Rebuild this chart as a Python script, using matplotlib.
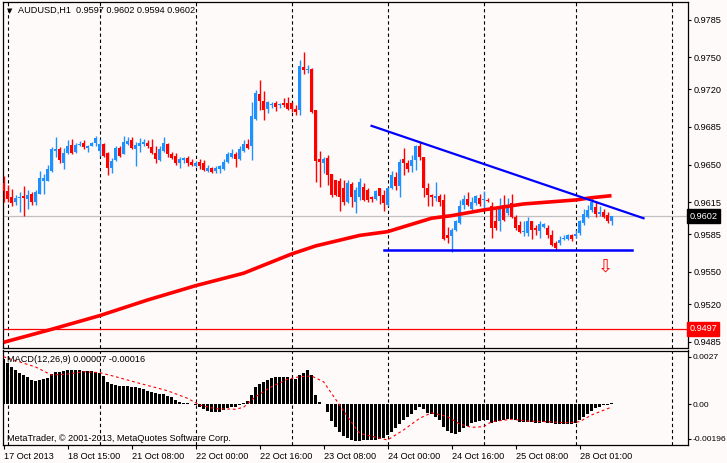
import matplotlib
matplotlib.use('Agg')
import matplotlib.pyplot as plt
import numpy as np

plt.rcParams['font.family'] = ['Liberation Sans', 'DejaVu Sans']

# AUDUSD H1 candles, oldest first (17 Oct 2013 .. 28 Oct 2013)
opens = [0.9633, 0.9625, 0.9620, 0.9615, 0.9619, 0.9621, 0.9618, 0.9623, 0.9615, 0.9623,
         0.9635, 0.9635, 0.9644, 0.9663, 0.9664, 0.9651, 0.9661, 0.9668, 0.9662, 0.9668,
         0.9670, 0.9665, 0.9667, 0.9670, 0.9663, 0.9669, 0.9661, 0.9647, 0.9654, 0.9665,
         0.9660, 0.9669, 0.9673, 0.9664, 0.9667, 0.9669, 0.9670, 0.9666, 0.9661, 0.9654,
         0.9663, 0.9669, 0.9660, 0.9658, 0.9651, 0.9654, 0.9656, 0.9652, 0.9649, 0.9652,
         0.9651, 0.9644, 0.9647, 0.9644, 0.9646, 0.9646, 0.9652, 0.9657, 0.9660, 0.9655,
         0.9663, 0.9669, 0.9667, 0.9692, 0.9716, 0.9709, 0.9702, 0.9705, 0.9707, 0.9705,
         0.9707, 0.9707, 0.9707, 0.9702, 0.9701, 0.9741, 0.9738, 0.9739, 0.9701, 0.9655,
         0.9651, 0.9656, 0.9641, 0.9636, 0.9635, 0.9628, 0.9615, 0.9632, 0.9615, 0.9620,
         0.9629, 0.9626, 0.9620, 0.9618, 0.9628, 0.9622, 0.9612, 0.9628, 0.9638, 0.9630,
         0.9655, 0.9651, 0.9649, 0.9654, 0.9667, 0.9657, 0.9628, 0.9622, 0.9619, 0.9621,
         0.9617, 0.9584, 0.9583, 0.9589, 0.9596, 0.9612, 0.9618, 0.9609, 0.9614, 0.9619,
         0.9617, 0.9617, 0.9611, 0.9597, 0.9597, 0.9612, 0.9605, 0.9614, 0.9601, 0.9594,
         0.9587, 0.9586, 0.9597, 0.9591, 0.9588, 0.9592, 0.9591, 0.9584, 0.9577, 0.9577,
         0.9581, 0.9581, 0.9584, 0.9583, 0.9586, 0.9596, 0.9601, 0.9608, 0.9610, 0.9604,
         0.9606, 0.9603, 0.9597]
highs = [0.9639, 0.9631, 0.9627, 0.9622, 0.9624, 0.9630, 0.9626, 0.9624, 0.9626, 0.9644,
         0.9641, 0.9650, 0.9666, 0.9676, 0.9666, 0.9665, 0.9673, 0.9674, 0.9670, 0.9672,
         0.9673, 0.9668, 0.9671, 0.9677, 0.9674, 0.9670, 0.9662, 0.9656, 0.9667, 0.9667,
         0.9677, 0.9676, 0.9676, 0.9671, 0.9675, 0.9674, 0.9673, 0.9674, 0.9667, 0.9667,
         0.9676, 0.9670, 0.9662, 0.9661, 0.9657, 0.9657, 0.9658, 0.9655, 0.9653, 0.9655,
         0.9654, 0.9650, 0.9648, 0.9649, 0.9650, 0.9655, 0.9662, 0.9664, 0.9662, 0.9667,
         0.9673, 0.9674, 0.9708, 0.9719, 0.9729, 0.9718, 0.9709, 0.9708, 0.9709, 0.9707,
         0.9712, 0.9713, 0.9708, 0.9705, 0.9747, 0.9755, 0.9743, 0.9740, 0.9701, 0.9663,
         0.9657, 0.9659, 0.9641, 0.9636, 0.9637, 0.9636, 0.9636, 0.9634, 0.9629, 0.9637,
         0.9633, 0.9628, 0.9621, 0.9626, 0.9628, 0.9626, 0.9629, 0.9644, 0.9643, 0.9655,
         0.9665, 0.9654, 0.9659, 0.9668, 0.9671, 0.9657, 0.9633, 0.9623, 0.9634, 0.9623,
         0.9623, 0.9592, 0.9591, 0.9598, 0.9617, 0.9622, 0.9624, 0.9620, 0.9622, 0.9623,
         0.9625, 0.9619, 0.9615, 0.9609, 0.9619, 0.9622, 0.9619, 0.9623, 0.9603, 0.9597,
         0.9597, 0.9601, 0.9597, 0.9594, 0.9597, 0.9596, 0.9594, 0.9589, 0.9579, 0.9583,
         0.9584, 0.9585, 0.9585, 0.9589, 0.9598, 0.9609, 0.9612, 0.9619, 0.9616, 0.9611,
         0.9609, 0.9606, 0.9602]
lows = [0.9615, 0.9615, 0.9611, 0.9612, 0.9606, 0.9602, 0.9609, 0.9612, 0.9612, 0.9623,
        0.9623, 0.9635, 0.9643, 0.9657, 0.9651, 0.9646, 0.9660, 0.9660, 0.9661, 0.9667,
        0.9664, 0.9662, 0.9667, 0.9667, 0.9658, 0.9657, 0.9640, 0.9642, 0.9653, 0.9657,
        0.9660, 0.9668, 0.9664, 0.9649, 0.9662, 0.9667, 0.9665, 0.9660, 0.9651, 0.9653,
        0.9662, 0.9657, 0.9655, 0.9650, 0.9647, 0.9651, 0.9649, 0.9649, 0.9648, 0.9646,
        0.9644, 0.9643, 0.9642, 0.9642, 0.9642, 0.9645, 0.9651, 0.9656, 0.9648, 0.9654,
        0.9662, 0.9664, 0.9654, 0.9691, 0.9701, 0.9691, 0.9698, 0.9703, 0.9700, 0.9703,
        0.9704, 0.9701, 0.9699, 0.9696, 0.9696, 0.9734, 0.9735, 0.9698, 0.9634, 0.9629,
        0.9642, 0.9631, 0.9620, 0.9621, 0.9607, 0.9612, 0.9614, 0.9610, 0.9605, 0.9617,
        0.9616, 0.9615, 0.9615, 0.9617, 0.9613, 0.9607, 0.9611, 0.9627, 0.9626, 0.9620,
        0.9640, 0.9643, 0.9643, 0.9645, 0.9654, 0.9620, 0.9611, 0.9611, 0.9616, 0.9611,
        0.9580, 0.9577, 0.9569, 0.9588, 0.9595, 0.9609, 0.9611, 0.9608, 0.9612, 0.9611,
        0.9608, 0.9615, 0.9582, 0.9589, 0.9588, 0.9597, 0.9603, 0.9600, 0.9589, 0.9586,
        0.9583, 0.9583, 0.9581, 0.9584, 0.9582, 0.9591, 0.9582, 0.9574, 0.9570, 0.9575,
        0.9580, 0.9580, 0.9579, 0.9582, 0.9584, 0.9594, 0.9600, 0.9606, 0.9601, 0.9602,
        0.9600, 0.9596, 0.9594]
closes = [0.9625, 0.9618, 0.9614, 0.9619, 0.9620, 0.9619, 0.9622, 0.9615, 0.9624, 0.9637,
          0.9637, 0.9646, 0.9664, 0.9664, 0.9654, 0.9661, 0.9667, 0.9661, 0.9668, 0.9669,
          0.9666, 0.9667, 0.9670, 0.9675, 0.9669, 0.9658, 0.9647, 0.9653, 0.9665, 0.9658,
          0.9671, 0.9672, 0.9665, 0.9668, 0.9670, 0.9671, 0.9667, 0.9661, 0.9655, 0.9664,
          0.9670, 0.9660, 0.9656, 0.9651, 0.9655, 0.9656, 0.9651, 0.9650, 0.9651, 0.9649,
          0.9645, 0.9647, 0.9643, 0.9647, 0.9649, 0.9652, 0.9660, 0.9661, 0.9655, 0.9664,
          0.9669, 0.9665, 0.9695, 0.9717, 0.9709, 0.9701, 0.9708, 0.9706, 0.9704, 0.9706,
          0.9705, 0.9702, 0.9702, 0.9699, 0.9742, 0.9738, 0.9739, 0.9699, 0.9653, 0.9652,
          0.9655, 0.9640, 0.9622, 0.9622, 0.9620, 0.9615, 0.9633, 0.9620, 0.9626, 0.9634,
          0.9617, 0.9617, 0.9618, 0.9625, 0.9621, 0.9614, 0.9628, 0.9640, 0.9630, 0.9652,
          0.9651, 0.9646, 0.9654, 0.9667, 0.9657, 0.9628, 0.9622, 0.9620, 0.9621, 0.9615,
          0.9581, 0.9582, 0.9589, 0.9597, 0.9611, 0.9618, 0.9612, 0.9615, 0.9621, 0.9613,
          0.9618, 0.9616, 0.9591, 0.9591, 0.9609, 0.9598, 0.9612, 0.9601, 0.9591, 0.9587,
          0.9588, 0.9597, 0.9589, 0.9589, 0.9595, 0.9595, 0.9584, 0.9575, 0.9572, 0.9580,
          0.9582, 0.9584, 0.9581, 0.9585, 0.9597, 0.9604, 0.9608, 0.9615, 0.9604, 0.9606,
          0.9601, 0.9597, 0.9602]

# moving average (red thick line), read at a few bars
ma_idx = [0, 12, 24, 36, 48, 60, 72, 78, 89, 96, 107, 112, 120, 130, 143, 147, 152]
ma_val = [0.94845, 0.94966, 0.95093, 0.95239, 0.95372, 0.95488, 0.95667, 0.95742, 0.95840,
          0.95875, 0.96000, 0.96024, 0.96077, 0.96133, 0.96170, 0.96191, 0.96210]

# hand drawn lines
trend_idx = [92, 160]
trend_val = [0.9686, 0.9600]
support_idx = [95, 157]
support_val = [0.9570, 0.9570]
arrow_idx = 150.5
arrow_val = 0.9555
bid = 0.9602
level = 0.9497

# MACD(12,26,9) histogram, in 1e-5
macd_hist = [256, 236, 214, 195, 180, 166, 157, 138, 134, 138, 142, 151, 172, 182, 185, 191,
             195, 195, 195, 195, 191, 189, 189, 185, 180, 161, 128, 115, 110, 104, 104, 104,
             100, 97, 91, 85, 77, 72, 62, 59, 57, 49, 40, 24, 15, 9, 6, 2,
             -4, -14, -28, -36, -42, -42, -42, -32, -23, -17, -13, -6, 6, 21, 53, 97,
             115, 125, 138, 148, 153, 157, 157, 153, 146, 142, 166, 180, 195, 166, 53, 15,
             2, -42, -93, -131, -159, -180, -193, -203, -206, -206, -203, -203, -203, -203, -199, -193,
             -174, -155, -136, -112, -89, -70, -55, -32, -17, -28, -47, -55, -70, -89, -127, -150,
             -165, -169, -155, -136, -123, -108, -98, -93, -89, -89, -104, -98, -93, -89, -85, -81,
             -89, -98, -102, -98, -102, -104, -104, -100, -104, -108, -114, -114, -114, -112, -112, -104,
             -89, -70, -55, -36, -23, -13, -6, -2, 7]
sig_idx = [0, 8, 12, 16, 20, 24, 28, 34, 41, 46, 49, 53, 58, 60, 63, 67, 71, 74, 77, 80,
           82, 86, 89, 96, 100, 104, 107, 111, 114, 117, 120, 122, 127, 131, 136, 141, 144, 147, 152]
sig_val = [270, 212, 166, 172, 185, 180, 157, 119, 77, 34, -4, -25, -28, -17, 43, 100, 142, 157,
           161, 128, 62, -70, -165, -203, -146, -80, -48, -70, -112, -131, -127, -99, -85, -95,
           -99, -105, -99, -61, -16]

price_ticks = [0.9785, 0.9750, 0.9720, 0.9685, 0.9650, 0.9615, 0.9585, 0.9550, 0.9520, 0.9485]
time_idx = [0, 16, 32, 48, 64, 80, 96, 112, 128, 144]
time_labels = ['17 Oct 2013', '18 Oct 15:00', '21 Oct 08:00', '22 Oct 00:00', '22 Oct 16:00',
               '23 Oct 08:00', '24 Oct 00:00', '24 Oct 16:00', '25 Oct 08:00', '28 Oct 01:00']
grid_idx = [1, 24, 48, 72, 96, 120, 143, 167]

BG = '#FFFAFA'
BULL = '#1E90FF'
BEAR = '#FF0000'
W, H = 727, 463
FS = 6.6

fig = plt.figure(figsize=(W / 100, H / 100), dpi=100, facecolor=BG)
ax = fig.add_axes([2.7 / W, 1 - 348 / H, 685.6 / W, 346 / H], facecolor=BG)
ax2 = fig.add_axes([2.7 / W, 1 - 445 / H, 685.6 / W, 94.5 / H], facecolor=BG)

o = np.array(opens)
h = np.array(highs)
l = np.array(lows)
c = np.array(closes)
x = np.arange(len(o))
cols = np.where(c >= o, BULL, BEAR)

for a in (ax, ax2):
    a.set_xlim(-0.225, 171.2)
    for g in grid_idx:
        a.axvline(g, color='black', lw=0.8, dashes=(3, 2.5), zorder=1)
    for s in a.spines.values():
        s.set_linewidth(0.9)
        s.set_color('black')

# main panel
ax.axhline(bid, color='#C0C0C0', lw=0.9, zorder=1)
ax.axhline(level, color='#FF0000', lw=0.9, zorder=2)
ax.vlines(x, l, h, colors=cols, lw=1.0, zorder=3)
ax.bar(x, np.maximum(np.abs(c - o), 0.00008), bottom=np.minimum(o, c), width=0.72,
       color=cols, linewidth=0, zorder=3)
ax.plot(ma_idx, ma_val, color='#FF0000', lw=2.6, solid_capstyle='butt', zorder=4)
ax.plot(trend_idx, trend_val, color='#0000FF', lw=1.6, zorder=5)
ax.plot(support_idx, support_val, color='#0000FF', lw=1.8, zorder=5)
ax.text(arrow_idx, arrow_val, '\u21e9', color='#FF0000', fontsize=13, ha='center', va='center',
        family=['DejaVu Sans'], zorder=6)

ax.set_ylim(0.94792, 0.98013)
ax.set_xticks([])
ax.yaxis.tick_right()
ax.set_yticks(price_ticks)
ax.set_yticklabels(['%.4f' % t for t in price_ticks])
ax.tick_params(axis='y', length=2.5, width=0.8, pad=1.5, labelsize=FS)

ytr = ax.get_yaxis_transform()
ax.text(1.0015, bid, '%.4f' % bid, transform=ytr, fontsize=FS, color='white', va='center',
        ha='left', bbox=dict(boxstyle='square,pad=0.25', fc='black', ec='black'), zorder=10)
ax.text(1.0015, level, '%.4f' % level, transform=ytr, fontsize=FS, color='white', va='center',
        ha='left', bbox=dict(boxstyle='square,pad=0.25', fc='#FF0000', ec='#FF0000'), zorder=10)

# MACD panel
hist = np.array(macd_hist) * 1e-5
ax2.bar(x, hist, width=0.7, color='black', linewidth=0, zorder=3)
ax2.plot(sig_idx, np.array(sig_val) * 1e-5, color='#FF0000', lw=0.8, dashes=(2.5, 2.5), zorder=4)
ax2.set_ylim(-0.002313, 0.003057)
ax2.yaxis.tick_right()
ax2.set_yticks([0.0027, 0.0, -0.00196])
ax2.set_yticklabels(['0.0027', '0.00', '-0.00196'])
ax2.tick_params(axis='y', length=2, width=0.8, pad=1, labelsize=6.1)
ax2.set_xticks(time_idx)
ax2.set_xticklabels(time_labels, ha='left')
ax2.tick_params(axis='x', length=3, width=0.8, pad=2, labelsize=FS)

# captions
fig.text(7 / W, 1 - 11 / H, '\u25bc', fontsize=5, va='center', ha='left', family=['DejaVu Sans'])
fig.text(18.5 / W, 1 - 10.7 / H, 'AUDUSD,H1  0.9597 0.9602 0.9594 0.9602', fontsize=FS,
         va='center', ha='left')
fig.text(7.3 / W, 1 - 359.3 / H, 'MACD(12,26,9) 0.00007 -0.00016', fontsize=FS,
         va='center', ha='left')
fig.text(7.3 / W, 1 - 438.3 / H, 'MetaTrader, \u00a9 2001-2013, MetaQuotes Software Corp.',
         fontsize=FS, va='center', ha='left')

fig.savefig('out.png', dpi=100, facecolor=BG)
